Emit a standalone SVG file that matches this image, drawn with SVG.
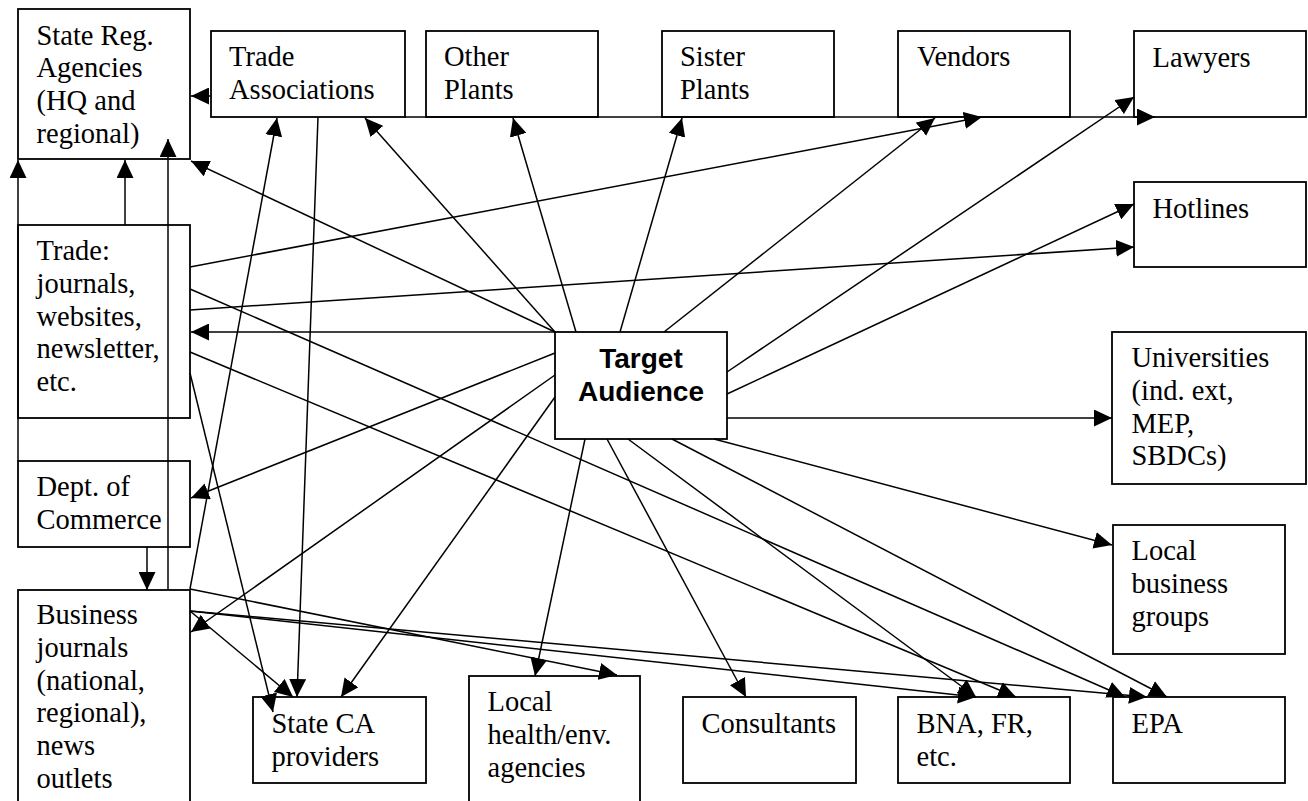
<svg xmlns="http://www.w3.org/2000/svg" width="1308" height="801" viewBox="0 0 1308 801">
  <style>
    .box { fill: #fff; stroke: #000; stroke-width: 1.8; }
    .lbl { font-family: "Liberation Serif", "Times New Roman", serif; font-size: 28.5px; fill: #000; }
    .hub { font-family: "Liberation Sans", Arial, sans-serif; font-size: 28px; font-weight: bold; fill: #000; text-anchor: middle; }
    .edge { fill: none; stroke: #000; stroke-width: 1.5; marker-end: url(#arrow); }
  </style>
  <defs>
    <marker id="arrow" viewBox="0 0 18 17" refX="18" refY="8.5" markerWidth="18" markerHeight="17" markerUnits="userSpaceOnUse" orient="auto">
      <path d="M0,0 L18,8.5 L0,17 Z" fill="#000"/>
    </marker>
  </defs>
  <rect width="1308" height="801" fill="#fff"/>

  <!-- nodes -->
  <g id="state-reg">
    <rect class="box" x="18" y="9" width="172" height="150"/>
    <text class="lbl" x="36.5" y="44.5"><tspan x="36.5">State Reg.</tspan><tspan x="36.5" dy="32.8">Agencies</tspan><tspan x="36.5" dy="32.8">(HQ and</tspan><tspan x="36.5" dy="32.8">regional)</tspan></text>
  </g>
  <g id="trade-assoc">
    <rect class="box" x="211" y="31" width="194" height="86"/>
    <text class="lbl" x="229" y="66"><tspan x="229">Trade</tspan><tspan x="229" dy="32.8">Associations</tspan></text>
  </g>
  <g id="other-plants">
    <rect class="box" x="426" y="31" width="172" height="86"/>
    <text class="lbl" x="444" y="66"><tspan x="444">Other</tspan><tspan x="444" dy="32.8">Plants</tspan></text>
  </g>
  <g id="sister-plants">
    <rect class="box" x="662" y="31" width="172" height="86"/>
    <text class="lbl" x="680" y="66"><tspan x="680">Sister</tspan><tspan x="680" dy="32.8">Plants</tspan></text>
  </g>
  <g id="vendors">
    <rect class="box" x="898" y="31" width="172" height="86"/>
    <text class="lbl" x="917" y="66">Vendors</text>
  </g>
  <g id="lawyers">
    <rect class="box" x="1134" y="31" width="172" height="86"/>
    <text class="lbl" x="1152.5" y="66.5">Lawyers</text>
  </g>
  <g id="hotlines">
    <rect class="box" x="1134" y="182" width="172" height="85"/>
    <text class="lbl" x="1152.5" y="217.5">Hotlines</text>
  </g>
  <g id="universities">
    <rect class="box" x="1112" y="332" width="194" height="152"/>
    <text class="lbl" x="1131.5" y="367"><tspan x="1131.5">Universities</tspan><tspan x="1131.5" dy="32.8">(ind. ext,</tspan><tspan x="1131.5" dy="32.8">MEP,</tspan><tspan x="1131.5" dy="32.8">SBDCs)</tspan></text>
  </g>
  <g id="local-business">
    <rect class="box" x="1113" y="525" width="172" height="129"/>
    <text class="lbl" x="1131.5" y="560"><tspan x="1131.5">Local</tspan><tspan x="1131.5" dy="32.8">business</tspan><tspan x="1131.5" dy="32.8">groups</tspan></text>
  </g>
  <g id="epa">
    <rect class="box" x="1113" y="697" width="172" height="86"/>
    <text class="lbl" x="1131.5" y="733">EPA</text>
  </g>
  <g id="bna">
    <rect class="box" x="898" y="697" width="172" height="86"/>
    <text class="lbl" x="916.5" y="733"><tspan x="916.5">BNA, FR,</tspan><tspan x="916.5" dy="32.8">etc.</tspan></text>
  </g>
  <g id="consultants">
    <rect class="box" x="683" y="697" width="173" height="86"/>
    <text class="lbl" x="701.5" y="733">Consultants</text>
  </g>
  <g id="local-health">
    <rect class="box" x="469" y="676" width="171" height="150"/>
    <text class="lbl" x="487.5" y="711"><tspan x="487.5">Local</tspan><tspan x="487.5" dy="32.8">health/env.</tspan><tspan x="487.5" dy="32.8">agencies</tspan></text>
  </g>
  <g id="state-ca">
    <rect class="box" x="253" y="697" width="173" height="86"/>
    <text class="lbl" x="271.5" y="733"><tspan x="271.5">State CA</tspan><tspan x="271.5" dy="32.8">providers</tspan></text>
  </g>
  <g id="business-journals">
    <rect class="box" x="18" y="590" width="172" height="240"/>
    <text class="lbl" x="36.5" y="624"><tspan x="36.5">Business</tspan><tspan x="36.5" dy="32.8">journals</tspan><tspan x="36.5" dy="32.8">(national,</tspan><tspan x="36.5" dy="32.8">regional),</tspan><tspan x="36.5" dy="32.8">news</tspan><tspan x="36.5" dy="32.8">outlets</tspan></text>
  </g>
  <g id="dept-commerce">
    <rect class="box" x="18" y="461" width="172" height="86"/>
    <text class="lbl" x="36.5" y="496"><tspan x="36.5">Dept. of</tspan><tspan x="36.5" dy="32.8">Commerce</tspan></text>
  </g>
  <g id="trade-media">
    <rect class="box" x="18" y="225" width="172" height="193"/>
    <text class="lbl" x="36.5" y="260"><tspan x="36.5">Trade:</tspan><tspan x="36.5" dy="32.8">journals,</tspan><tspan x="36.5" dy="32.8">websites,</tspan><tspan x="36.5" dy="32.8">newsletter,</tspan><tspan x="36.5" dy="32.8">etc.</tspan></text>
  </g>
  <g id="target-audience">
    <rect class="box" x="555" y="332" width="172" height="107"/>
    <text class="hub" x="641" y="368">Target</text>
    <text class="hub" x="641" y="401">Audience</text>
  </g>

  <!-- connectors -->
  <g id="connectors">
    <!-- from Target Audience -->
    <line class="edge" x1="555" y1="332" x2="191" y2="161"/>
    <line class="edge" x1="555" y1="332" x2="365" y2="118"/>
    <line class="edge" x1="576" y1="332" x2="513" y2="118"/>
    <line class="edge" x1="620" y1="332" x2="682" y2="118"/>
    <line class="edge" x1="664" y1="332" x2="935" y2="118"/>
    <line class="edge" x1="727" y1="372" x2="1134" y2="97"/>
    <line class="edge" x1="727" y1="394" x2="1134" y2="204"/>
    <line class="edge" x1="727" y1="418" x2="1112" y2="418"/>
    <line class="edge" x1="714" y1="439" x2="1112" y2="545"/>
    <line class="edge" x1="672" y1="439" x2="1167" y2="697"/>
    <line class="edge" x1="628" y1="439" x2="976" y2="697"/>
    <line class="edge" x1="607" y1="439" x2="746" y2="697"/>
    <line class="edge" x1="585" y1="439" x2="535" y2="676"/>
    <line class="edge" x1="555" y1="397" x2="341" y2="697"/>
    <line class="edge" x1="555" y1="375" x2="191" y2="632"/>
    <line class="edge" x1="555" y1="353" x2="191" y2="498"/>
    <line class="edge" x1="555" y1="332" x2="191" y2="332"/>
    <!-- from trade media -->
    <line class="edge" x1="190" y1="267" x2="982" y2="117"/>
    <line class="edge" x1="190" y1="289" x2="1125" y2="697"/>
    <line class="edge" x1="190" y1="310" x2="1134" y2="247"/>
    <line class="edge" x1="190" y1="352" x2="1016" y2="697"/>
    <line class="edge" x1="190" y1="373" x2="273" y2="712"/>
    <line class="edge" x1="125" y1="225" x2="125" y2="160"/>
    <!-- from business journals -->
    <line class="edge" x1="190" y1="589" x2="277" y2="118"/>
    <line class="edge" x1="190" y1="589" x2="617" y2="675"/>
    <line class="edge" x1="190" y1="611" x2="293" y2="697"/>
    <line class="edge" x1="190" y1="611" x2="976" y2="697"/>
    <line class="edge" x1="190" y1="611" x2="1147" y2="697"/>
    <line class="edge" x1="168" y1="590" x2="168" y2="139"/>
    <!-- from Dept. of Commerce -->
    <line class="edge" x1="147" y1="547" x2="147" y2="590"/>
    <line class="edge" x1="18" y1="461" x2="18" y2="160"/>
    <!-- from trade associations -->
    <line class="edge" x1="211" y1="96" x2="191" y2="96"/>
    <line class="edge" x1="318" y1="117" x2="297" y2="697"/>
    <line class="edge" x1="405" y1="117" x2="1155" y2="117"/>
  </g>
</svg>
